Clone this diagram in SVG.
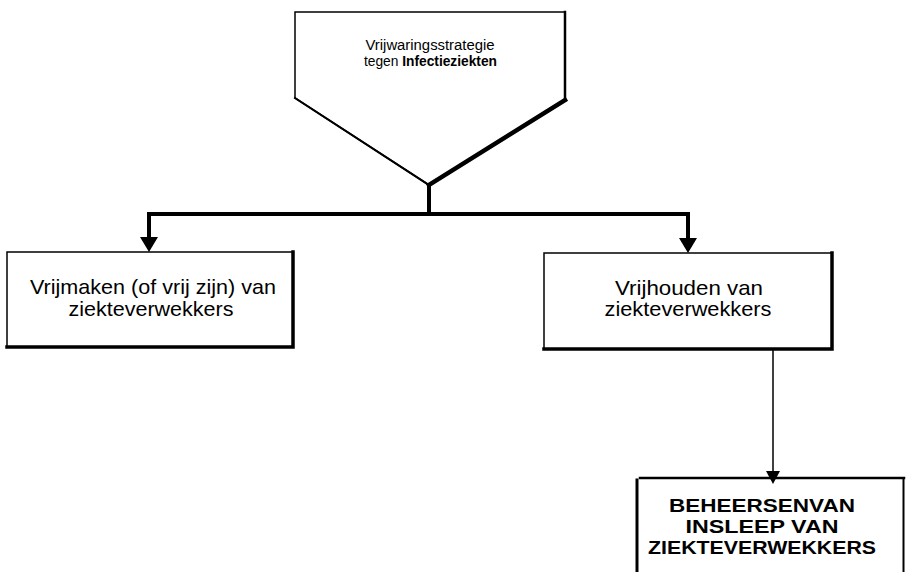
<svg xmlns="http://www.w3.org/2000/svg" width="909" height="572" viewBox="0 0 909 572">
<style>
.ln{fill:none;stroke:#000;stroke-linecap:square}
.thin{stroke-width:1.5}
.shadow{stroke-width:3.5}
.head{fill:#000;stroke:none}
.t{font-family:"Liberation Sans",Arial,Helvetica,sans-serif;fill:#000}
.big{font-size:21px}
.cap{font-size:19px}
.small{font-size:14px}
.bold{font-weight:bold}
</style>
<rect width="909" height="572" fill="#fff"/>

<g id="node-strategy">
<polygon class="ln thin" points="295,12 565,12 565,100 429,185 295,98"/>
<line class="ln" stroke-width="2" x1="295" y1="98" x2="429" y2="185"/>
<line class="ln" stroke-width="2.5" x1="565" y1="12" x2="565" y2="100"/>
<line class="ln" stroke-width="4.5" x1="565" y1="100" x2="429" y2="185"/>
<text class="t small" x="430" y="50" text-anchor="middle" textLength="129" lengthAdjust="spacingAndGlyphs">Vrijwaringsstrategie</text>
<text class="t small" x="364" y="66" textLength="133" lengthAdjust="spacingAndGlyphs">tegen <tspan class="bold">Infectieziekten</tspan></text>
</g>

<g id="node-vrijmaken">
<rect class="ln thin" x="7" y="252" width="286" height="95"/>
<polyline class="ln shadow" points="293,252 293,347 7,347"/>
<text class="t big" x="153" y="294" text-anchor="middle" textLength="246" lengthAdjust="spacingAndGlyphs">Vrijmaken (of vrij zijn) van</text>
<text class="t big" x="151" y="316" text-anchor="middle" textLength="165" lengthAdjust="spacingAndGlyphs">ziekteverwekkers</text>
</g>

<g id="node-vrijhouden">
<rect class="ln thin" x="544" y="253" width="288" height="96"/>
<polyline class="ln shadow" points="832,253 832,349 544,349"/>
<text class="t big" x="689" y="295" text-anchor="middle" textLength="148" lengthAdjust="spacingAndGlyphs">Vrijhouden van</text>
<text class="t big" x="688" y="316" text-anchor="middle" textLength="167" lengthAdjust="spacingAndGlyphs">ziekteverwekkers</text>
</g>

<g id="node-beheersen">
<line class="ln" stroke-width="2.5" x1="640" y1="478" x2="904" y2="478"/>
<line class="ln" stroke-width="3" x1="637" y1="480" x2="637" y2="572"/>
<line class="ln" stroke-width="2" x1="903.5" y1="478" x2="903.5" y2="572"/>
<text class="t cap bold" x="762" y="512" text-anchor="middle" textLength="186" lengthAdjust="spacingAndGlyphs">BEHEERSENVAN</text>
<text class="t cap bold" x="762" y="533" text-anchor="middle" textLength="153" lengthAdjust="spacingAndGlyphs">INSLEEP VAN</text>
<text class="t cap bold" x="762" y="554" text-anchor="middle" textLength="228" lengthAdjust="spacingAndGlyphs">ZIEKTEVERWEKKERS</text>
</g>

<g id="connectors">
<line class="ln" stroke-width="4" stroke-linecap="butt" x1="429" y1="185" x2="429" y2="214"/>
<polyline class="ln" stroke-width="4" stroke-linejoin="miter" stroke-linecap="butt" points="149,238 149,214 688,214 688,238"/>
<path class="head" d="M140,237 L158,237 L149,252 Z"/>
<path class="head" d="M679,238 L697,238 L688,253 Z"/>
<line class="ln thin" x1="773" y1="349" x2="773" y2="472"/>
<path class="head" d="M766,471 L780,471 L773,484 Z"/>
</g>
</svg>
